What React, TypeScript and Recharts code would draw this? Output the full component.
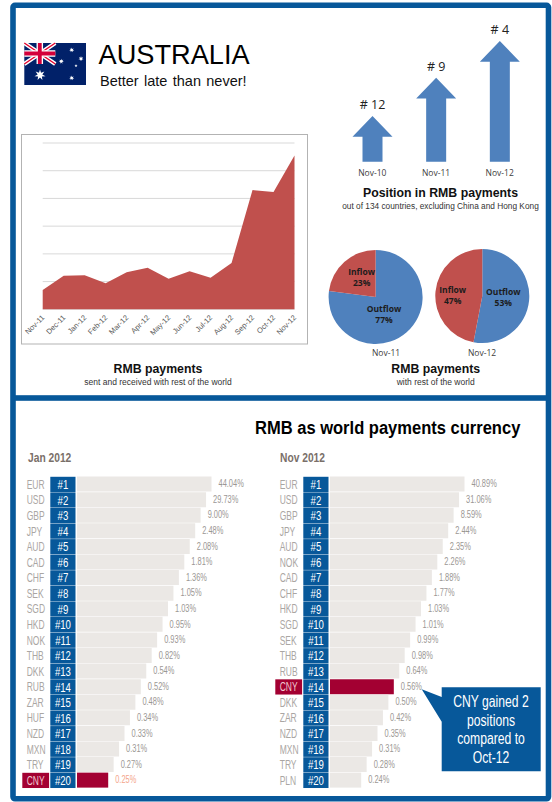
import { Area, AreaChart, Bar, BarChart, CartesianGrid, Cell, LabelList, Pie, PieChart, XAxis, YAxis } from "recharts";

const months = ["Nov-11", "Dec-11", "Jan-12", "Feb-12", "Mar-12", "Apr-12", "May-12", "Jun-12", "Jul-12", "Aug-12", "Sep-12", "Oct-12", "Nov-12"];
const monthlyPayments = [0.7, 1.21, 1.23, 0.94, 1.34, 1.5, 1.1, 1.37, 1.14, 1.67, 4.3, 4.23, 5.55];

const positionDates = ["Nov-10", "Nov-11", "Nov-12"];
const positionRanks = [12, 9, 4];

const flowNames = ["Outflow", "Inflow"];
const flowNov11 = [77, 23];
const flowNov12 = [53, 47];

const janCurrencies = ["EUR", "USD", "GBP", "JPY", "AUD", "CAD", "CHF", "SEK", "SGD", "HKD", "NOK", "THB", "DKK", "RUB", "ZAR", "HUF", "NZD", "MXN", "TRY", "CNY"];
const janShares = [44.04, 29.73, 9.0, 2.48, 2.08, 1.81, 1.36, 1.05, 1.03, 0.95, 0.93, 0.82, 0.54, 0.52, 0.48, 0.34, 0.33, 0.31, 0.27, 0.25];
const novCurrencies = ["EUR", "USD", "GBP", "JPY", "AUD", "NOK", "CAD", "CHF", "HKD", "SGD", "SEK", "THB", "RUB", "CNY", "DKK", "ZAR", "NZD", "MXN", "TRY", "PLN"];
const novShares = [40.89, 31.06, 8.59, 2.44, 2.35, 2.26, 1.88, 1.77, 1.03, 1.01, 0.99, 0.98, 0.64, 0.56, 0.5, 0.42, 0.35, 0.31, 0.28, 0.24];

const BLUE = "#07589a";
const CRIMSON = "#a30032";
const ARIAL = "'Liberation Sans', Arial, sans-serif";
const CALIBRI = "'Open Sans', sans-serif";

// Piecewise scale: the league-table bars step evenly by rank, not linearly by share.
function stopScale(stops: [number, number][], domain: number[] = [0, 1], range: number[] = [0, 1]) {
  const sorted = [...stops].sort((a, b) => a[0] - b[0]);
  const scale: any = (value: number) => {
    let fraction = sorted[sorted.length - 1][1];
    if (value <= sorted[0][0]) fraction = sorted[0][1];
    else {
      for (let i = 1; i < sorted.length; i++) {
        if (value <= sorted[i][0]) {
          const [v0, f0] = sorted[i - 1];
          const [v1, f1] = sorted[i];
          fraction = f0 + ((value - v0) / (v1 - v0)) * (f1 - f0);
          break;
        }
      }
    }
    return range[0] + fraction * (range[1] - range[0]);
  };
  scale.domain = (next?: number[]) => (next ? ((domain = next), scale) : domain);
  scale.range = (next?: number[]) => (next ? ((range = next), scale) : range);
  scale.copy = () => stopScale(stops, domain, range);
  scale.ticks = () => sorted.map((s) => s[0]);
  return scale;
}

function rankedShareScale(shares: number[]) {
  const floor = 0.232;
  const step = (1 - floor) / (shares.length - 1);
  const stops: [number, number][] = shares.map((share, i) => [share, floor + (shares.length - 1 - i) * step]);
  return stopScale([[0, 0], ...stops]);
}

// Arrow heights for league position: lower rank number, taller arrow.
const positionScale = stopScale([[16, 0], [12, 0.379], [9, 0.696], [4, 1]]);

// Condensed lettering: no narrow face is installed, so squeeze the regular one.
function Squeezed({ x, y, squeeze, anchor = "start", size, weight = 400, fill, children }: any) {
  return (
    <text transform={`translate(${x} ${y}) scale(${squeeze} 1)`} textAnchor={anchor} style={{ fontSize: size, fontWeight: weight, fontFamily: ARIAL, fill }}>
      {children}
    </text>
  );
}

function Arrow({ x, y, width, height }: any) {
  const cx = x + width / 2;
  const head = 20.7;
  const points = [
    [cx, y],
    [cx + width, y + head],
    [x + width, y + head],
    [x + width, y + height],
    [x, y + height],
    [x, y + head],
    [cx - width, y + head],
  ];
  return <polygon points={points.map((p) => p.join(",")).join(" ")} fill="#4f81bd" />;
}

function ArrowLabel({ x, y, width, value }: any) {
  return (
    <text x={x + width / 2} y={y - 7} textAnchor="middle" style={{ fontSize: 12.5, fontFamily: CALIBRI, fill: "#222" }}>
      {value}
    </text>
  );
}

function PositionArrows() {
  const data = positionDates.map((date, i) => ({ date, rank: positionRanks[i], label: `# ${positionRanks[i]}` }));
  return (
    <BarChart width={232} height={185} data={data} margin={{ top: 41, right: 20.5, bottom: 0, left: 20.5 }} style={{ position: "absolute", left: 320, top: 0 }}>
      <XAxis dataKey="date" axisLine={false} tickLine={false} height={23.3} interval={0} tick={{ fontSize: 8.5, fontFamily: CALIBRI, fill: "#404040" }} tickMargin={2} />
      <YAxis hide type="number" domain={[0, 16]} scale={positionScale} />
      <Bar dataKey={(d: any) => [16, d.rank]} barSize={20} shape={<Arrow />} isAnimationActive={false}>
        <LabelList dataKey="label" content={<ArrowLabel />} />
      </Bar>
    </BarChart>
  );
}

function MonthlyArea() {
  const data = months.map((month, i) => ({ month, value: monthlyPayments[i] }));
  return (
    <AreaChart width={285} height={209} data={data} margin={{ top: 8, right: 12.5, bottom: 0, left: 20.7 }} style={{ position: "absolute", left: 22, top: 135 }}>
      <CartesianGrid vertical={false} stroke="#d9d9d9" />
      <XAxis dataKey="month" scale="point" axisLine={false} tickLine={false} interval={0} height={34.7} angle={-45} textAnchor="end" tick={{ fontSize: 7.5, fontFamily: ARIAL, fill: "#595959", dx: -1.5, dy: -1 }} tickMargin={0} />
      <YAxis hide type="number" domain={[0, 6]} ticks={[0, 1, 2, 3, 4, 5, 6]} />
      <Area type="linear" dataKey="value" fill="#c0504d" fillOpacity={1} stroke="none" isAnimationActive={false} />
    </AreaChart>
  );
}

function FlowPie({ values, left, top, cx, cy, labelOffsets }: any) {
  const data = flowNames.map((name, i) => ({ name, value: values[i] }));
  const renderLabel = (props: any) => {
    const [dx, dy] = labelOffsets[props.index];
    const x = props.cx + dx;
    const y = props.cy + dy;
    const style = { fontSize: 8.5, fontWeight: 700, fontFamily: CALIBRI, fill: "#1c1c1c" };
    return (
      <text x={x} y={y} textAnchor="middle" style={style}>
        <tspan x={x} dy={-2.5}>{props.name}</tspan>
        <tspan x={x} dy={11}>{props.value}%</tspan>
      </text>
    );
  };
  return (
    <PieChart width={104} height={104} margin={{ top: 0, right: 0, bottom: 0, left: 0 }} style={{ position: "absolute", left, top }}>
      <Pie data={data} dataKey="value" nameKey="name" cx={cx} cy={cy} outerRadius={47} startAngle={90} endAngle={-270} stroke="none" label={renderLabel} labelLine={false} isAnimationActive={false}>
        <Cell fill="#4f81bd" />
        <Cell fill="#c0504d" />
      </Pie>
    </PieChart>
  );
}

function CurrencyTick({ x, y, payload, index }: any) {
  const isCny = payload.value === "CNY";
  return (
    <g>
      {isCny && <rect x={x - 54.7} y={y - 7.6} width={26.8} height={15.2} fill={CRIMSON} />}
      <Squeezed x={x - 50.3} y={y + 4.4} squeeze={0.68} size={12.5} fill={isCny ? "#f1c9d0" : "#aaa6a3"}>{payload.value}</Squeezed>
      <rect x={x - 26.7} y={y - 7.6} width={25.2} height={15.2} fill={BLUE} />
      <Squeezed x={x - 14.1} y={y + 4.6} squeeze={0.74} anchor="middle" size={13} fill="#ffffff">#{index + 1}</Squeezed>
    </g>
  );
}

function ShareLabel({ x, y, width, height, value, index, highlightLabel }: any) {
  const fill = highlightLabel === index ? "#f4a68c" : "#9b9794";
  return (
    <Squeezed x={x + width + 7} y={y + height / 2 + 3.2} squeeze={0.71} size={10.5} fill={fill}>
      {value.toFixed(2)}%
    </Squeezed>
  );
}

function LeagueTable({ currencies, shares, left, highlightLabel }: any) {
  const data = currencies.map((currency: string, i: number) => ({ currency, share: shares[i] }));
  return (
    <BarChart width={271.5} height={325} layout="vertical" data={data} margin={{ top: 6.6, right: 60, bottom: 6.8, left: 0 }} style={{ position: "absolute", left, top: 470 }}>
      <XAxis hide type="number" domain={[0, shares[0]]} scale={rankedShareScale(shares)} />
      <YAxis type="category" dataKey="currency" width={77} axisLine={false} tickLine={false} tickSize={0} tickMargin={0} interval={0} tick={<CurrencyTick />} />
      <Bar dataKey="share" barSize={15} fill="#ebe8e5" isAnimationActive={false}>
        {currencies.map((currency: string) => (
          <Cell key={currency} fill={currency === "CNY" ? CRIMSON : "#ebe8e5"} />
        ))}
        <LabelList dataKey="share" content={<ShareLabel highlightLabel={highlightLabel} />} />
      </Bar>
    </BarChart>
  );
}

function star(cx: number, cy: number, outer: number, inner: number, tips: number) {
  const points = [];
  for (let i = 0; i < tips * 2; i++) {
    const r = i % 2 === 0 ? outer : inner;
    const a = (Math.PI * i) / tips - Math.PI / 2;
    points.push(`${cx + r * Math.cos(a)},${cy + r * Math.sin(a)}`);
  }
  return points.join(" ");
}

function Flag() {
  return (
    <g>
      <rect x={24.3} y={43} width={61.7} height={42} fill="#012169" />
      <path d="M24.3 43 L55.3 64 M55.3 43 L24.3 64" stroke="#ffffff" strokeWidth={4} />
      <path d="M24.3 43 L55.3 64 M55.3 43 L24.3 64" stroke="#e4002b" strokeWidth={1.4} />
      <path d="M39.8 43 V64 M24.3 53.5 H55.3" stroke="#ffffff" strokeWidth={6.5} />
      <path d="M39.8 43 V64 M24.3 53.5 H55.3" stroke="#d4003a" strokeWidth={3.8} />
      <polygon points={star(40, 75, 5.6, 2.4, 7)} fill="#ffffff" />
      <polygon points={star(71.7, 50, 2.6, 1.1, 7)} fill="#ffffff" />
      <polygon points={star(61.3, 61.3, 2.6, 1.1, 7)} fill="#ffffff" />
      <polygon points={star(81, 58.7, 2.6, 1.1, 7)} fill="#ffffff" />
      <polygon points={star(76, 65.7, 1.6, 0.7, 5)} fill="#ffffff" />
      <polygon points={star(71.7, 78, 2.6, 1.1, 7)} fill="#ffffff" />
    </g>
  );
}

function Caption({ x, y, title, sub, subSize = 8.5 }: any) {
  return (
    <g textAnchor="middle">
      <text x={x} y={y} style={{ fontSize: 12.3, fontWeight: 700, fontFamily: ARIAL, fill: "#111" }}>{title}</text>
      <text x={x} y={y + 12} style={{ fontSize: subSize, fontFamily: ARIAL, fill: "#333" }}>{sub}</text>
    </g>
  );
}

function Overlay() {
  const callout = ["CNY gained 2", "positions", "compared to", "Oct-12"];
  const calloutY = [707, 725.5, 744, 762.5];
  return (
    <svg width={552} height={802} style={{ position: "absolute", left: 0, top: 0 }}>
      <rect x={13} y={5.3} width={535.5} height={793.5} rx={2} fill="none" stroke={BLUE} strokeWidth={5.6} />
      <rect x={13} y={395.2} width={535.5} height={5.6} fill={BLUE} />
      <rect x={21.5} y={134.5} width={286} height={209.5} fill="none" stroke="#b3b3b3" />
      <Flag />
      <text x={98.5} y={64} style={{ fontSize: 27.2, fontFamily: ARIAL, fill: "#000" }}>AUSTRALIA</text>
      <text x={100} y={86} style={{ fontSize: 14.5, fontFamily: ARIAL, fill: "#111", wordSpacing: 1.3 }}>Better late than never!</text>
      <Caption x={158} y={373} title="RMB payments" sub="sent and received with rest of the world" />
      <Caption x={440.5} y={197} title="Position in RMB payments" sub="out of 134 countries, excluding China and Hong Kong" subSize={8.3} />
      <Caption x={435.7} y={373} title="RMB payments" sub="with rest of the world" />
      <text x={386} y={356} textAnchor="middle" style={{ fontSize: 8.5, fontFamily: CALIBRI, fill: "#404040" }}>Nov-11</text>
      <text x={482} y={356} textAnchor="middle" style={{ fontSize: 8.5, fontFamily: CALIBRI, fill: "#404040" }}>Nov-12</text>
      <Squeezed x={255} y={434} squeeze={0.87} size={19} weight={700} fill="#000">RMB as world payments currency</Squeezed>
      <Squeezed x={28} y={461.5} squeeze={0.82} size={12.5} weight={700} fill="#7a6f69">Jan 2012</Squeezed>
      <Squeezed x={280} y={461.5} squeeze={0.82} size={12.5} weight={700} fill="#7a6f69">Nov 2012</Squeezed>
      <path d="M441.7 687.3 H540.7 V771.3 H441.7 V721.7 L421.7 689.3 L441.7 697 Z" fill={BLUE} />
      {callout.map((line, i) => (
        <Squeezed key={line} x={491} y={calloutY[i]} squeeze={0.76} anchor="middle" size={16} fill="#ffffff">{line}</Squeezed>
      ))}
    </svg>
  );
}

export default function App() {
  return (
    <div style={{ position: "absolute", left: 0, top: 0, width: 552, height: 802, background: "#ffffff", overflow: "hidden" }}>
      <MonthlyArea />
      <PositionArrows />
      <FlowPie values={flowNov11} left={324} top={245} cx={51.6} cy={52} labelOffsets={[[8.4, 17.7], [-14, -20]]} />
      <FlowPie values={flowNov12} left={430} top={244} cx={52.3} cy={52} labelOffsets={[[21, 1.5], [-29.6, -1]]} />
      <LeagueTable currencies={janCurrencies} shares={janShares} left={0} highlightLabel={19} />
      <LeagueTable currencies={novCurrencies} shares={novShares} left={253} highlightLabel={-1} />
      <Overlay />
    </div>
  );
}
